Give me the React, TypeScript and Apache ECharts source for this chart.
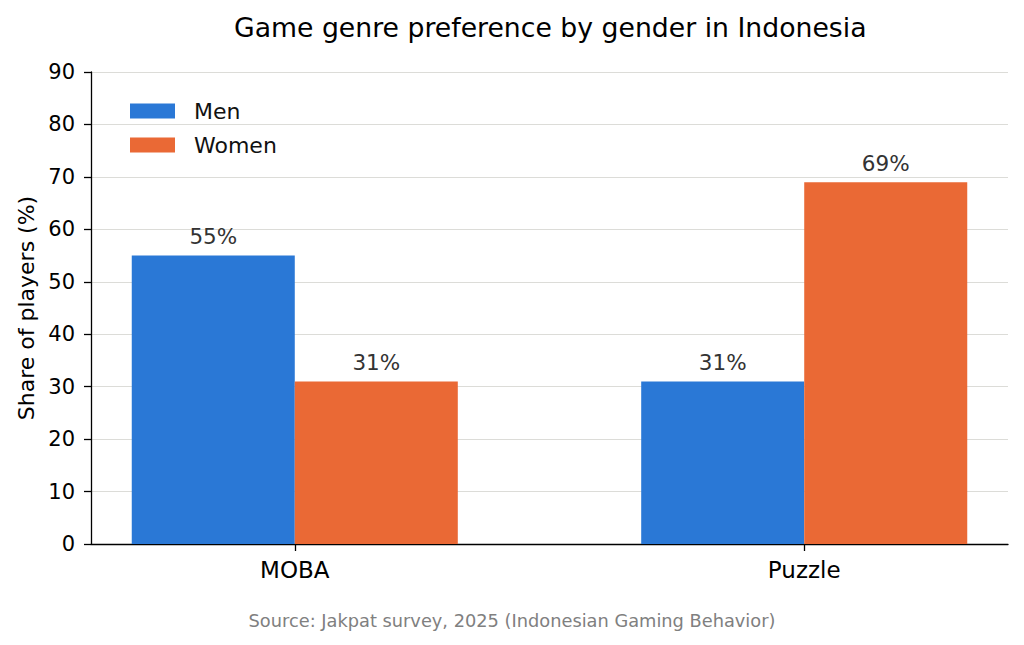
import React, { useEffect, useRef } from "react";
import * as echarts from "echarts";

const categories = ["MOBA", "Puzzle"];
const menValues = [55, 31];
const womenValues = [31, 69];
const yTicks = [0, 10, 20, 30, 40, 50, 60, 70, 80, 90];

const FONT = "DejaVu Sans, sans-serif";

export default function App() {
  const ref = useRef<HTMLDivElement>(null);
  useEffect(() => {
    if (!ref.current) return;
    const chart = echarts.init(ref.current, null, { renderer: "svg" });
    const labelCfg = {
      show: true,
      position: "top",
      distance: 8,
      color: "#333333",
      fontSize: 21.5,
      fontFamily: FONT,
      formatter: (p: any) => `${p.value[1]}%`,
    };
    chart.setOption({
      animation: false,
      backgroundColor: "#ffffff",
      textStyle: { fontFamily: FONT },
      title: {
        text: "Game genre preference by gender in Indonesia",
        left: 234,
        top: 14,
        padding: 0,
        textStyle: { fontSize: 26.7, fontWeight: "normal", color: "#000", fontFamily: FONT },
      },
      legend: {
        orient: "vertical",
        left: 130,
        top: 100,
        padding: 0,
        icon: "rect",
        itemWidth: 45,
        itemHeight: 15,
        itemGap: 12,
        textStyle: { fontSize: 22, color: "#111", fontFamily: FONT, padding: [0, 0, 0, 14] },
        data: ["Men", "Women"],
      },
      grid: { left: 91, right: 16, top: 72, bottom: 101, containLabel: false },
      xAxis: {
        type: "value",
        min: -0.4,
        max: 1.4,
        axisLine: { show: true, onZero: false, lineStyle: { color: "#000", width: 1.3 } },
        axisTick: { show: true, customValues: [0, 1], length: 7, lineStyle: { color: "#000", width: 1.3 } },
        axisLabel: {
          customValues: [0, 1],
          formatter: (v: number) => categories[Math.round(v)] ?? "",
          fontSize: 23,
          color: "#000",
          margin: 14,
          fontFamily: FONT,
        },
        splitLine: { show: false },
      },
      yAxis: {
        type: "value",
        min: yTicks[0],
        max: yTicks[yTicks.length - 1],
        interval: 10,
        name: "Share of players (%)",
        nameLocation: "middle",
        nameGap: 54,
        nameTextStyle: { fontSize: 22, color: "#000", fontFamily: FONT },
        axisLine: { show: true, onZero: false, lineStyle: { color: "#000", width: 1.3 } },
        axisTick: { show: true, length: 7, lineStyle: { color: "#000", width: 1.3 } },
        axisLabel: { fontSize: 21, color: "#000", margin: 16, fontFamily: FONT },
        splitLine: { show: true, lineStyle: { color: "#dcdcd8", width: 1.2 } },
      },
      graphic: [
        {
          type: "text",
          left: "center",
          top: 611,
          style: {
            text: "Source: Jakpat survey, 2025 (Indonesian Gaming Behavior)",
            fill: "#808080",
            fontSize: 17.8,
            fontFamily: FONT,
          },
        },
      ],
      series: [
        {
          name: "Men",
          type: "bar",
          barWidth: "32%",
          barGap: "0%",
          itemStyle: { color: "#2A78D6" },
          label: labelCfg,
          data: menValues.map((v, i) => [i, v]),
        },
        {
          name: "Women",
          type: "bar",
          barWidth: "32%",
          barGap: "0%",
          itemStyle: { color: "#EA6935" },
          label: labelCfg,
          data: womenValues.map((v, i) => [i, v]),
        },
      ],
    });
    return () => chart.dispose();
  }, []);
  return <div ref={ref} style={{ width: 1024, height: 645, position: "absolute", left: 0, top: 0 }} />;
}
